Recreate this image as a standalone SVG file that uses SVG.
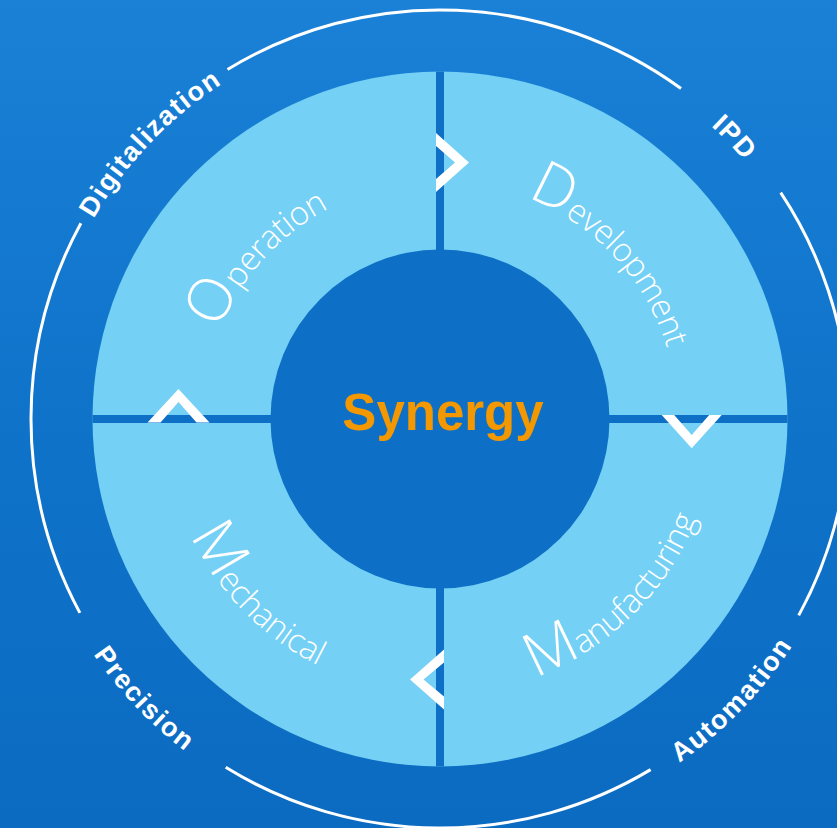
<svg xmlns="http://www.w3.org/2000/svg" width="837" height="828" viewBox="0 0 837 828">
  <defs>
    <linearGradient id="bg" x1="0" y1="0" x2="0" y2="1">
      <stop offset="0" stop-color="#1a81d7"/>
      <stop offset="0.5" stop-color="#0f73ca"/>
      <stop offset="1" stop-color="#0b6bc1"/>
    </linearGradient>
    <clipPath id="ringClip">
      <circle cx="440" cy="419" r="347.5"/>
    </clipPath>
    <path id="pDig" d="M56.3,531.9 A399,399 0 0 1 534.0,31.2"/>
    <path id="pIPD" d="M345.3,31.4 A399,399 0 0 1 822.9,531.3"/>
    <path id="pAut" d="M339.6,825.8 A419,419 0 0 0 842.6,303.1"/>
    <path id="pPre" d="M38.4,299.6 A419,419 0 0 0 536.9,826.6"/>
    <path id="pOpe" d="M213.6,492.5 A238,238 0 0 1 489.5,186.2"/>
    <path id="pDev" d="M386.5,187.1 A238,238 0 0 1 667.6,488.6"/>
    <path id="pMan" d="M366.5,684.0 A275,275 0 0 0 706.2,350.1"/>
    <path id="pMec" d="M175.3,344.6 A275,275 0 0 0 507.9,685.5"/>
    <style>
      .arc { fill: none; stroke: #ffffff; stroke-width: 3; }
      .lbl { font-family: "Liberation Sans", Arial, sans-serif; font-weight: bold; font-size: 27px; fill: #ffffff; letter-spacing: 1.5px; }
      .seg { fill: #74d0f4; }
      .gap { fill: #0d6fc5; }
      .qt { font-family: "Open Sans", Lato, sans-serif; font-weight: 300; fill: #ffffff; font-size: 33px; letter-spacing: -0.5px; }
      .big { font-size: 60px; }
      .chev { fill: #ffffff; }
    </style>
  </defs>

  <rect x="0" y="0" width="837" height="828" fill="url(#bg)"/>

  <!-- outer white ring with labels -->
  <g id="outer-ring">
    <path class="arc" d="M227.5,69.5 A409,409 0 0 1 681,88.5"/>
    <path class="arc" d="M780.7,192.7 A409,409 0 0 1 798.7,615.4"/>
    <path class="arc" d="M650.6,769.6 A409,409 0 0 1 225.7,767.3"/>
    <path class="arc" d="M79.9,612.9 A409,409 0 0 1 80.9,223.2"/>
  </g>
  <g id="label-digitalization">
    <text class="lbl" text-anchor="middle"><textPath href="#pDig" startOffset="50%">Digitalization</textPath></text>
  </g>
  <g id="label-ipd">
    <text class="lbl" text-anchor="middle"><textPath href="#pIPD" startOffset="50%">IPD</textPath></text>
  </g>
  <g id="label-automation">
    <text class="lbl" text-anchor="middle"><textPath href="#pAut" startOffset="50%">Automation</textPath></text>
  </g>
  <g id="label-precision">
    <text class="lbl" text-anchor="middle"><textPath href="#pPre" startOffset="50%">Precision</textPath></text>
  </g>

  <!-- ring quadrants -->
  <g id="ring-base">
    <circle class="seg" cx="440" cy="419" r="347.5"/>
    <g clip-path="url(#ringClip)">
      <rect class="gap" x="436" y="60" width="8" height="720"/>
      <rect class="gap" x="80" y="415" width="720" height="8"/>
    </g>
  </g>

  <g id="center">
    <circle class="gap" cx="440" cy="419" r="169.5"/>
    <text x="443" y="430" text-anchor="middle" font-family="'Liberation Sans', Arial, sans-serif" font-weight="bold" font-size="51" fill="#f39800">Synergy</text>
  </g>

  <g id="operation">
    <text class="qt" text-anchor="middle"><textPath href="#pOpe" startOffset="50%"><tspan class="big">O</tspan>peration</textPath></text>
  </g>
  <g id="development">
    <text class="qt" text-anchor="middle"><textPath href="#pDev" startOffset="50%"><tspan class="big">D</tspan>evelopment</textPath></text>
  </g>
  <g id="manufacturing">
    <text class="qt" text-anchor="middle"><textPath href="#pMan" startOffset="50%"><tspan class="big">M</tspan>anufacturing</textPath></text>
  </g>
  <g id="mechanical">
    <text class="qt" text-anchor="middle"><textPath href="#pMec" startOffset="50%"><tspan class="big">M</tspan>echanical</textPath></text>
  </g>

  <g id="connectors">
    <polygon class="chev" points="436,133 469,162.5 436,192 436,179 455,162.5 436,146"/>
    <polygon class="chev" points="661.7,415 691.7,448.3 721.7,415 709.2,415 691.7,435 674.2,415"/>
    <polygon class="chev" points="444,649.5 410,679.5 444,709.5 444,696.5 423.5,679.5 444,662.5"/>
    <polygon class="chev" points="147.5,422.5 178.5,389 209.5,422.5 196.5,422.5 178.5,402 160.5,422.5"/>
  </g>
</svg>
